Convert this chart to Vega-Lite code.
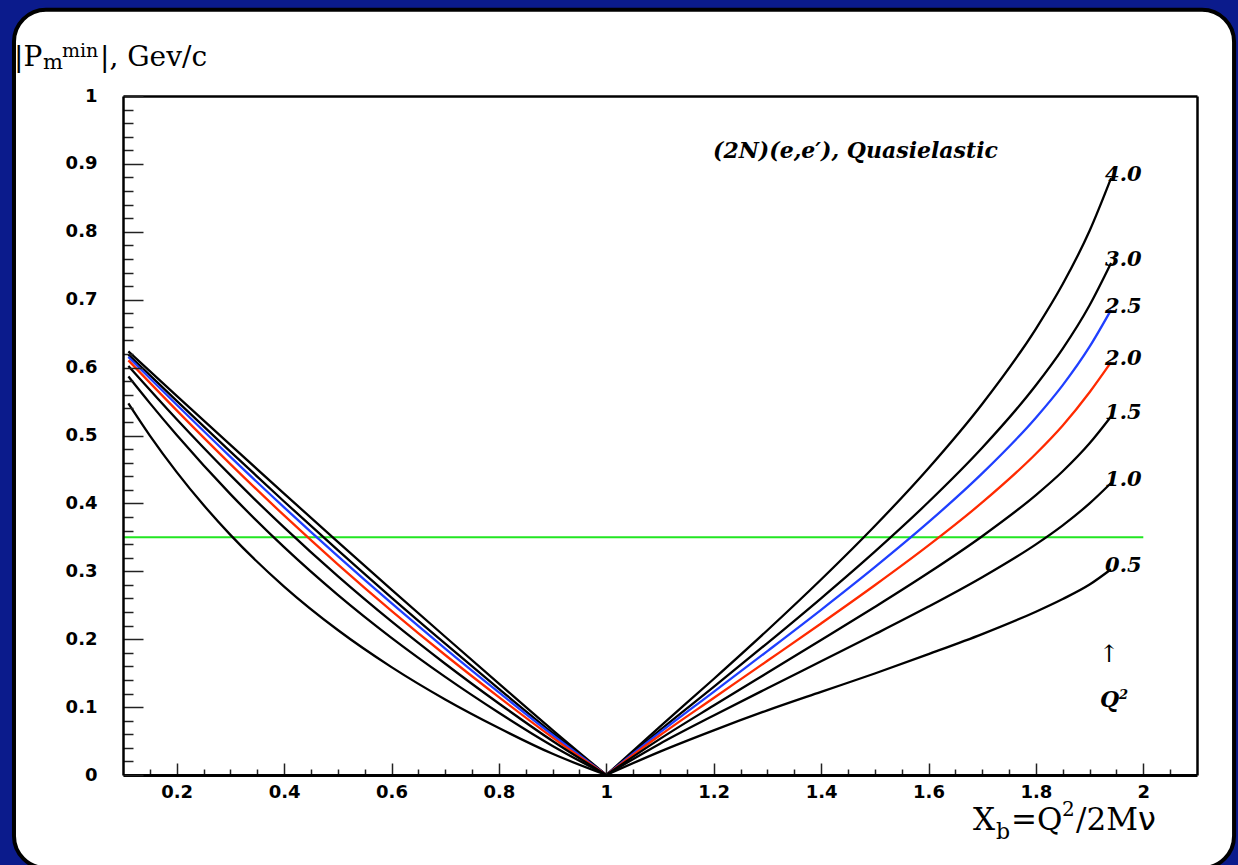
{
  "$schema": "https://vega.github.io/schema/vega-lite/v6.json",
  "width": 1074,
  "height": 679,
  "autosize": {"type": "none"},
  "padding": {"left": 123, "top": 96, "right": 41, "bottom": 90},
  "background": "#0b1b8c",
  "config": {"view": {"stroke": null}, "axis": {"grid": false}},
  "datasets": {
    "curves": [
      {"q": "4.0", "side": "L", "x": 0.11, "p": 0.624},
      {"q": "4.0", "side": "L", "x": 0.2, "p": 0.5585},
      {"q": "4.0", "side": "L", "x": 0.3, "p": 0.4861},
      {"q": "4.0", "side": "L", "x": 0.4, "p": 0.4144},
      {"q": "4.0", "side": "L", "x": 0.5, "p": 0.3433},
      {"q": "4.0", "side": "L", "x": 0.6, "p": 0.273},
      {"q": "4.0", "side": "L", "x": 0.7, "p": 0.2036},
      {"q": "4.0", "side": "L", "x": 0.8, "p": 0.1347},
      {"q": "4.0", "side": "L", "x": 0.9, "p": 0.0662},
      {"q": "4.0", "side": "L", "x": 1.0, "p": 0.0},
      {"q": "4.0", "side": "R", "x": 1.0, "p": 0.0},
      {"q": "4.0", "side": "R", "x": 1.1, "p": 0.0713},
      {"q": "4.0", "side": "R", "x": 1.2, "p": 0.1414},
      {"q": "4.0", "side": "R", "x": 1.3, "p": 0.2132},
      {"q": "4.0", "side": "R", "x": 1.4, "p": 0.2879},
      {"q": "4.0", "side": "R", "x": 1.5, "p": 0.3667},
      {"q": "4.0", "side": "R", "x": 1.6, "p": 0.4518},
      {"q": "4.0", "side": "R", "x": 1.7, "p": 0.5464},
      {"q": "4.0", "side": "R", "x": 1.8, "p": 0.6572},
      {"q": "4.0", "side": "R", "x": 1.85, "p": 0.7231},
      {"q": "4.0", "side": "R", "x": 1.9, "p": 0.8015},
      {"q": "4.0", "side": "R", "x": 1.94, "p": 0.879},

      {"q": "3.0", "side": "L", "x": 0.11, "p": 0.6191},
      {"q": "3.0", "side": "L", "x": 0.2, "p": 0.551},
      {"q": "3.0", "side": "L", "x": 0.3, "p": 0.4762},
      {"q": "3.0", "side": "L", "x": 0.4, "p": 0.4028},
      {"q": "3.0", "side": "L", "x": 0.5, "p": 0.3312},
      {"q": "3.0", "side": "L", "x": 0.6, "p": 0.2613},
      {"q": "3.0", "side": "L", "x": 0.7, "p": 0.1934},
      {"q": "3.0", "side": "L", "x": 0.8, "p": 0.1269},
      {"q": "3.0", "side": "L", "x": 0.9, "p": 0.0619},
      {"q": "3.0", "side": "L", "x": 1.0, "p": 0.0},
      {"q": "3.0", "side": "R", "x": 1.0, "p": 0.0},
      {"q": "3.0", "side": "R", "x": 1.1, "p": 0.0661},
      {"q": "3.0", "side": "R", "x": 1.2, "p": 0.1298},
      {"q": "3.0", "side": "R", "x": 1.3, "p": 0.1943},
      {"q": "3.0", "side": "R", "x": 1.4, "p": 0.2603},
      {"q": "3.0", "side": "R", "x": 1.5, "p": 0.329},
      {"q": "3.0", "side": "R", "x": 1.6, "p": 0.402},
      {"q": "3.0", "side": "R", "x": 1.7, "p": 0.4819},
      {"q": "3.0", "side": "R", "x": 1.8, "p": 0.5739},
      {"q": "3.0", "side": "R", "x": 1.85, "p": 0.6279},
      {"q": "3.0", "side": "R", "x": 1.9, "p": 0.6918},
      {"q": "3.0", "side": "R", "x": 1.94, "p": 0.754},

      {"q": "2.5", "side": "L", "x": 0.11, "p": 0.6157},
      {"q": "2.5", "side": "L", "x": 0.2, "p": 0.5453},
      {"q": "2.5", "side": "L", "x": 0.3, "p": 0.4686},
      {"q": "2.5", "side": "L", "x": 0.4, "p": 0.3942},
      {"q": "2.5", "side": "L", "x": 0.5, "p": 0.3223},
      {"q": "2.5", "side": "L", "x": 0.6, "p": 0.253},
      {"q": "2.5", "side": "L", "x": 0.7, "p": 0.1862},
      {"q": "2.5", "side": "L", "x": 0.8, "p": 0.1216},
      {"q": "2.5", "side": "L", "x": 0.9, "p": 0.0589},
      {"q": "2.5", "side": "L", "x": 1.0, "p": 0.0},
      {"q": "2.5", "side": "R", "x": 1.0, "p": 0.0},
      {"q": "2.5", "side": "R", "x": 1.1, "p": 0.0627},
      {"q": "2.5", "side": "R", "x": 1.2, "p": 0.1225},
      {"q": "2.5", "side": "R", "x": 1.3, "p": 0.1825},
      {"q": "2.5", "side": "R", "x": 1.4, "p": 0.2433},
      {"q": "2.5", "side": "R", "x": 1.5, "p": 0.3061},
      {"q": "2.5", "side": "R", "x": 1.6, "p": 0.3723},
      {"q": "2.5", "side": "R", "x": 1.7, "p": 0.4442},
      {"q": "2.5", "side": "R", "x": 1.8, "p": 0.5262},
      {"q": "2.5", "side": "R", "x": 1.85, "p": 0.5742},
      {"q": "2.5", "side": "R", "x": 1.9, "p": 0.6308},
      {"q": "2.5", "side": "R", "x": 1.94, "p": 0.685},

      {"q": "2.0", "side": "L", "x": 0.11, "p": 0.6106},
      {"q": "2.0", "side": "L", "x": 0.2, "p": 0.537},
      {"q": "2.0", "side": "L", "x": 0.3, "p": 0.4579},
      {"q": "2.0", "side": "L", "x": 0.4, "p": 0.3823},
      {"q": "2.0", "side": "L", "x": 0.5, "p": 0.3103},
      {"q": "2.0", "side": "L", "x": 0.6, "p": 0.2418},
      {"q": "2.0", "side": "L", "x": 0.7, "p": 0.1767},
      {"q": "2.0", "side": "L", "x": 0.8, "p": 0.1147},
      {"q": "2.0", "side": "L", "x": 0.9, "p": 0.0551},
      {"q": "2.0", "side": "L", "x": 1.0, "p": 0.0},
      {"q": "2.0", "side": "R", "x": 1.0, "p": 0.0},
      {"q": "2.0", "side": "R", "x": 1.1, "p": 0.0585},
      {"q": "2.0", "side": "R", "x": 1.2, "p": 0.1135},
      {"q": "2.0", "side": "R", "x": 1.3, "p": 0.1682},
      {"q": "2.0", "side": "R", "x": 1.4, "p": 0.2232},
      {"q": "2.0", "side": "R", "x": 1.5, "p": 0.2794},
      {"q": "2.0", "side": "R", "x": 1.6, "p": 0.3381},
      {"q": "2.0", "side": "R", "x": 1.7, "p": 0.4014},
      {"q": "2.0", "side": "R", "x": 1.8, "p": 0.4731},
      {"q": "2.0", "side": "R", "x": 1.85, "p": 0.5148},
      {"q": "2.0", "side": "R", "x": 1.9, "p": 0.5637},
      {"q": "2.0", "side": "R", "x": 1.94, "p": 0.608},

      {"q": "1.5", "side": "L", "x": 0.11, "p": 0.6024},
      {"q": "1.5", "side": "L", "x": 0.2, "p": 0.524},
      {"q": "1.5", "side": "L", "x": 0.3, "p": 0.4416},
      {"q": "1.5", "side": "L", "x": 0.4, "p": 0.3646},
      {"q": "1.5", "side": "L", "x": 0.5, "p": 0.2928},
      {"q": "1.5", "side": "L", "x": 0.6, "p": 0.2261},
      {"q": "1.5", "side": "L", "x": 0.7, "p": 0.1638},
      {"q": "1.5", "side": "L", "x": 0.8, "p": 0.1053},
      {"q": "1.5", "side": "L", "x": 0.9, "p": 0.05},
      {"q": "1.5", "side": "L", "x": 1.0, "p": 0.0},
      {"q": "1.5", "side": "R", "x": 1.0, "p": 0.0},
      {"q": "1.5", "side": "R", "x": 1.1, "p": 0.0532},
      {"q": "1.5", "side": "R", "x": 1.2, "p": 0.1023},
      {"q": "1.5", "side": "R", "x": 1.3, "p": 0.1506},
      {"q": "1.5", "side": "R", "x": 1.4, "p": 0.1987},
      {"q": "1.5", "side": "R", "x": 1.5, "p": 0.2474},
      {"q": "1.5", "side": "R", "x": 1.6, "p": 0.2978},
      {"q": "1.5", "side": "R", "x": 1.7, "p": 0.3517},
      {"q": "1.5", "side": "R", "x": 1.8, "p": 0.4122},
      {"q": "1.5", "side": "R", "x": 1.85, "p": 0.4473},
      {"q": "1.5", "side": "R", "x": 1.9, "p": 0.4885},
      {"q": "1.5", "side": "R", "x": 1.94, "p": 0.528},

      {"q": "1.0", "side": "L", "x": 0.11, "p": 0.587},
      {"q": "1.0", "side": "L", "x": 0.15, "p": 0.5477},
      {"q": "1.0", "side": "L", "x": 0.2, "p": 0.5007},
      {"q": "1.0", "side": "L", "x": 0.3, "p": 0.4137},
      {"q": "1.0", "side": "L", "x": 0.4, "p": 0.3355},
      {"q": "1.0", "side": "L", "x": 0.5, "p": 0.2653},
      {"q": "1.0", "side": "L", "x": 0.6, "p": 0.202},
      {"q": "1.0", "side": "L", "x": 0.7, "p": 0.1445},
      {"q": "1.0", "side": "L", "x": 0.8, "p": 0.0917},
      {"q": "1.0", "side": "L", "x": 0.9, "p": 0.0428},
      {"q": "1.0", "side": "L", "x": 1.0, "p": 0.0},
      {"q": "1.0", "side": "R", "x": 1.0, "p": 0.0},
      {"q": "1.0", "side": "R", "x": 1.1, "p": 0.0461},
      {"q": "1.0", "side": "R", "x": 1.2, "p": 0.0876},
      {"q": "1.0", "side": "R", "x": 1.3, "p": 0.1278},
      {"q": "1.0", "side": "R", "x": 1.4, "p": 0.1675},
      {"q": "1.0", "side": "R", "x": 1.5, "p": 0.2072},
      {"q": "1.0", "side": "R", "x": 1.6, "p": 0.248},
      {"q": "1.0", "side": "R", "x": 1.7, "p": 0.2913},
      {"q": "1.0", "side": "R", "x": 1.8, "p": 0.3397},
      {"q": "1.0", "side": "R", "x": 1.85, "p": 0.3677},
      {"q": "1.0", "side": "R", "x": 1.9, "p": 0.4},
      {"q": "1.0", "side": "R", "x": 1.94, "p": 0.43},

      {"q": "0.5", "side": "L", "x": 0.11, "p": 0.5473},
      {"q": "0.5", "side": "L", "x": 0.15, "p": 0.4999},
      {"q": "0.5", "side": "L", "x": 0.2, "p": 0.4461},
      {"q": "0.5", "side": "L", "x": 0.25, "p": 0.3976},
      {"q": "0.5", "side": "L", "x": 0.3, "p": 0.3537},
      {"q": "0.5", "side": "L", "x": 0.4, "p": 0.2775},
      {"q": "0.5", "side": "L", "x": 0.5, "p": 0.2135},
      {"q": "0.5", "side": "L", "x": 0.6, "p": 0.1589},
      {"q": "0.5", "side": "L", "x": 0.7, "p": 0.1113},
      {"q": "0.5", "side": "L", "x": 0.8, "p": 0.0692},
      {"q": "0.5", "side": "L", "x": 0.9, "p": 0.0312},
      {"q": "0.5", "side": "L", "x": 1.0, "p": 0.0},
      {"q": "0.5", "side": "R", "x": 1.0, "p": 0.0},
      {"q": "0.5", "side": "R", "x": 1.1, "p": 0.0345},
      {"q": "0.5", "side": "R", "x": 1.2, "p": 0.0658},
      {"q": "0.5", "side": "R", "x": 1.3, "p": 0.0952},
      {"q": "0.5", "side": "R", "x": 1.4, "p": 0.1225},
      {"q": "0.5", "side": "R", "x": 1.5, "p": 0.1495},
      {"q": "0.5", "side": "R", "x": 1.6, "p": 0.178},
      {"q": "0.5", "side": "R", "x": 1.7, "p": 0.2075},
      {"q": "0.5", "side": "R", "x": 1.8, "p": 0.2405},
      {"q": "0.5", "side": "R", "x": 1.85, "p": 0.2592},
      {"q": "0.5", "side": "R", "x": 1.9, "p": 0.2805},
      {"q": "0.5", "side": "R", "x": 1.94, "p": 0.303}
    ]
  },
  "data": {"name": "curves"},
  "resolve": {"axis": {"x": "independent", "y": "independent"}},
  "layer": [
    {
      "data": {"values": [{}]},
      "mark": {"type": "rect", "fill": "white", "stroke": "black", "strokeWidth": 4, "cornerRadius": 32},
      "encoding": {
        "x": {"datum": -0.103, "type": "quantitative", "scale": {"domain": [0.1, 2.1], "nice": false, "zero": false}, "axis": null},
        "x2": {"datum": 2.169},
        "y": {"datum": 1.127, "type": "quantitative", "scale": {"domain": [0, 1], "nice": false, "zero": false}, "axis": null},
        "y2": {"datum": -0.137}
      }
    },
    {
      "data": {"values": [{}]},
      "mark": {"type": "rule", "stroke": "#22e622", "strokeWidth": 2},
      "encoding": {
        "x": {"datum": 0.1, "type": "quantitative", "scale": {"domain": [0.1, 2.1], "nice": false, "zero": false},
          "axis": {"orient": "top", "title": null, "ticks": false, "labels": false, "domain": true, "domainColor": "black", "domainWidth": 2.5, "zindex": 1}},
        "x2": {"datum": 2.0},
        "y": {"datum": 0.35, "type": "quantitative", "scale": {"domain": [0, 1], "nice": false, "zero": false},
          "axis": {"orient": "right", "title": null, "ticks": false, "labels": false, "domain": true, "domainColor": "black", "domainWidth": 2.5, "zindex": 1}}
      }
    },
    {
      "mark": {"type": "line", "interpolate": "monotone", "strokeWidth": 2.3},
      "encoding": {
        "x": {"field": "x", "type": "quantitative", "scale": {"domain": [0.1, 2.1], "nice": false, "zero": false},
          "axis": {
            "orient": "bottom", "title": null, "zindex": 1,
            "values": [0.15, 0.2, 0.25, 0.3, 0.35, 0.4, 0.45, 0.5, 0.55, 0.6, 0.65, 0.7, 0.75, 0.8, 0.85, 0.9, 0.95, 1, 1.05, 1.1, 1.15, 1.2, 1.25, 1.3, 1.35, 1.4, 1.45, 1.5, 1.55, 1.6, 1.65, 1.7, 1.75, 1.8, 1.85, 1.9, 1.95, 2, 2.05],
            "domain": true, "domainColor": "black", "domainWidth": 3,
            "tickColor": "#222222", "tickWidth": 1.5,
            "tickSize": {"condition": {"test": "abs(datum.value * 5 - round(datum.value * 5)) < 0.001", "value": -12}, "value": -6},
            "labelExpr": "abs(datum.value * 5 - round(datum.value * 5)) < 0.001 ? format(datum.value, '.1~f') : ''",
            "labelFont": "DejaVu Sans", "labelFontWeight": "bold", "labelFontSize": 18, "labelColor": "black",
            "labelPadding": 20, "labelFlush": false, "labelOverlap": false, "labelBound": false
          }},
        "y": {"field": "p", "type": "quantitative", "scale": {"domain": [0, 1], "nice": false, "zero": false},
          "axis": {
            "orient": "left", "title": null, "zindex": 1,
            "values": [0, 0.02, 0.04, 0.06, 0.08, 0.1, 0.12, 0.14, 0.16, 0.18, 0.2, 0.22, 0.24, 0.26, 0.28, 0.3, 0.32, 0.34, 0.36, 0.38, 0.4, 0.42, 0.44, 0.46, 0.48, 0.5, 0.52, 0.54, 0.56, 0.58, 0.6, 0.62, 0.64, 0.66, 0.68, 0.7, 0.72, 0.74, 0.76, 0.78, 0.8, 0.82, 0.84, 0.86, 0.88, 0.9, 0.92, 0.94, 0.96, 0.98, 1],
            "domain": true, "domainColor": "black", "domainWidth": 2.5,
            "tickColor": "#222222", "tickWidth": 1.5,
            "tickSize": {"condition": {"test": "abs(datum.value * 10 - round(datum.value * 10)) < 0.001", "value": -20}, "value": -10},
            "labelExpr": "abs(datum.value * 10 - round(datum.value * 10)) < 0.001 ? format(datum.value, '.1~f') : ''",
            "labelFont": "DejaVu Sans", "labelFontWeight": "bold", "labelFontSize": 18, "labelColor": "black",
            "labelPadding": 46, "labelFlush": false, "labelOverlap": false, "labelBound": false
          }},
        "color": {"field": "q", "type": "nominal",
          "scale": {"domain": ["0.5", "1.0", "1.5", "2.0", "2.5", "3.0", "4.0"], "range": ["#000000", "#000000", "#000000", "#ff2a00", "#1f3fff", "#000000", "#000000"]},
          "legend": null},
        "detail": {"field": "side"}
      }
    },
    {
      "transform": [{"filter": "datum.x == 1.94"}],
      "mark": {"type": "text", "align": "left", "baseline": "middle", "dx": -6, "dy": -3, "font": "DejaVu Serif", "fontStyle": "italic", "fontWeight": "bold", "fontSize": 21, "color": "black"},
      "encoding": {
        "x": {"field": "x", "type": "quantitative", "scale": {"domain": [0.1, 2.1], "nice": false, "zero": false}, "axis": null},
        "y": {"field": "p", "type": "quantitative", "scale": {"domain": [0, 1], "nice": false, "zero": false}, "axis": null},
        "text": {"field": "q"}
      }
    },
    {
      "data": {"values": [{}]},
      "mark": {"type": "text", "text": "(2N)(e,e′), Quasielastic", "align": "left", "baseline": "alphabetic", "font": "DejaVu Serif", "fontStyle": "italic", "fontWeight": "bold", "fontSize": 22, "color": "black"},
      "encoding": {"x": {"datum": 1.1987, "type": "quantitative", "axis": null}, "y": {"datum": 0.9082, "type": "quantitative", "axis": null}}
    },
    {
      "data": {"values": [{}]},
      "mark": {"type": "text", "text": "↑", "align": "center", "baseline": "middle", "font": "DejaVu Serif", "fontSize": 24, "color": "black"},
      "encoding": {"x": {"datum": 1.9361, "type": "quantitative", "axis": null}, "y": {"datum": 0.1767, "type": "quantitative", "axis": null}}
    },
    {
      "data": {"values": [{}]},
      "mark": {"type": "text", "text": "Q", "align": "left", "baseline": "alphabetic", "font": "DejaVu Serif", "fontStyle": "italic", "fontWeight": "bold", "fontSize": 22, "color": "black"},
      "encoding": {"x": {"datum": 1.9194, "type": "quantitative", "axis": null}, "y": {"datum": 0.1006, "type": "quantitative", "axis": null}}
    },
    {
      "data": {"values": [{}]},
      "mark": {"type": "text", "text": "2", "align": "left", "baseline": "alphabetic", "dx": 19, "dy": -8, "font": "DejaVu Serif", "fontStyle": "italic", "fontWeight": "bold", "fontSize": 13, "color": "black"},
      "encoding": {"x": {"datum": 1.9194, "type": "quantitative", "axis": null}, "y": {"datum": 0.1006, "type": "quantitative", "axis": null}}
    },
    {
      "data": {"values": [{}]},
      "mark": {"type": "text", "text": "|P", "align": "left", "baseline": "alphabetic", "font": "DejaVu Serif", "fontSize": 28, "color": "black"},
      "encoding": {"x": {"datum": -0.103, "type": "quantitative", "axis": null}, "y": {"datum": 1.0446, "type": "quantitative", "axis": null}}
    },
    {
      "data": {"values": [{}]},
      "mark": {"type": "text", "text": "m", "align": "left", "baseline": "alphabetic", "dx": 29, "dy": 3, "font": "DejaVu Serif", "fontSize": 21, "color": "black"},
      "encoding": {"x": {"datum": -0.103, "type": "quantitative", "axis": null}, "y": {"datum": 1.0446, "type": "quantitative", "axis": null}}
    },
    {
      "data": {"values": [{}]},
      "mark": {"type": "text", "text": "min", "align": "left", "baseline": "alphabetic", "dx": 48, "dy": -8.4, "font": "DejaVu Serif", "fontSize": 19, "color": "black"},
      "encoding": {"x": {"datum": -0.103, "type": "quantitative", "axis": null}, "y": {"datum": 1.0446, "type": "quantitative", "axis": null}}
    },
    {
      "data": {"values": [{}]},
      "mark": {"type": "text", "text": "|, Gev/c", "align": "left", "baseline": "alphabetic", "dx": 86, "font": "DejaVu Serif", "fontSize": 28, "color": "black"},
      "encoding": {"x": {"datum": -0.103, "type": "quantitative", "axis": null}, "y": {"datum": 1.0446, "type": "quantitative", "axis": null}}
    },
    {
      "data": {"values": [{}]},
      "mark": {"type": "text", "text": "X", "align": "left", "baseline": "alphabetic", "font": "DejaVu Serif", "fontSize": 31, "color": "black"},
      "encoding": {"x": {"datum": 1.6829, "type": "quantitative", "axis": null}, "y": {"datum": -0.0805, "type": "quantitative", "axis": null}}
    },
    {
      "data": {"values": [{}]},
      "mark": {"type": "text", "text": "b", "align": "left", "baseline": "alphabetic", "dx": 23, "dy": 9, "font": "DejaVu Serif", "fontSize": 22, "color": "black"},
      "encoding": {"x": {"datum": 1.6829, "type": "quantitative", "axis": null}, "y": {"datum": -0.0805, "type": "quantitative", "axis": null}}
    },
    {
      "data": {"values": [{}]},
      "mark": {"type": "text", "text": "=Q", "align": "left", "baseline": "alphabetic", "dx": 38, "font": "DejaVu Serif", "fontSize": 31, "color": "black"},
      "encoding": {"x": {"datum": 1.6829, "type": "quantitative", "axis": null}, "y": {"datum": -0.0805, "type": "quantitative", "axis": null}}
    },
    {
      "data": {"values": [{}]},
      "mark": {"type": "text", "text": "2", "align": "left", "baseline": "alphabetic", "dx": 89, "dy": -14, "font": "DejaVu Serif", "fontSize": 20, "color": "black"},
      "encoding": {"x": {"datum": 1.6829, "type": "quantitative", "axis": null}, "y": {"datum": -0.0805, "type": "quantitative", "axis": null}}
    },
    {
      "data": {"values": [{}]},
      "mark": {"type": "text", "text": "/2M", "align": "left", "baseline": "alphabetic", "dx": 103, "font": "DejaVu Serif", "fontSize": 31, "color": "black"},
      "encoding": {"x": {"datum": 1.6829, "type": "quantitative", "axis": null}, "y": {"datum": -0.0805, "type": "quantitative", "axis": null}}
    },
    {
      "data": {"values": [{}]},
      "mark": {"type": "text", "text": "ν", "align": "left", "baseline": "alphabetic", "dx": 165, "font": "DejaVu Sans", "fontSize": 32, "color": "black"},
      "encoding": {"x": {"datum": 1.6829, "type": "quantitative", "axis": null}, "y": {"datum": -0.0805, "type": "quantitative", "axis": null}}
    }
  ]
}
